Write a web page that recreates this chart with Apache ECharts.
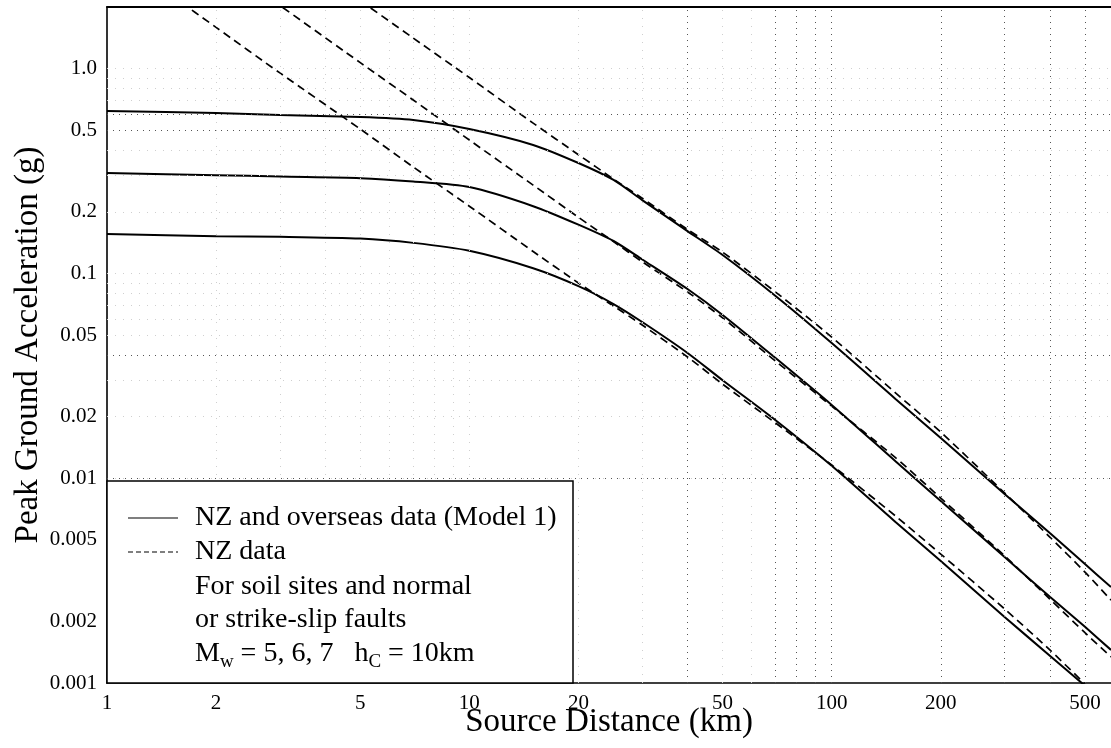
<!DOCTYPE html>
<html>
<head>
<meta charset="utf-8">
<script src="https://cdn.jsdelivr.net/npm/echarts@6/dist/echarts.min.js"></script>
<style>
  html, body { margin: 0; padding: 0; background: #ffffff; }
  #chart { width: 1111px; height: 748px; }
</style>
</head>
<body>
<div id="chart"></div>
<script>
// Attenuation curves: peak ground acceleration (g) against source distance (km)
// Model 1 (NZ and overseas data), Mw = 5, 6, 7
const distM7 = [1, 2, 3, 5, 7, 10, 15, 20, 25, 30, 40, 50, 70, 100, 150, 200, 300, 400, 500, 590];
const pgaM7  = [0.621, 0.607, 0.593, 0.580, 0.561, 0.507, 0.424, 0.346, 0.286, 0.228, 0.161, 0.123, 0.0776, 0.0457, 0.0244, 0.0157, 0.00837, 0.0054, 0.00381, 0.00294];
const distM6 = [1, 2, 3, 5, 7, 10, 15, 20, 25, 30, 40, 50, 70, 100, 150, 200, 300, 400, 500, 590];
const pgaM6  = [0.309, 0.302, 0.297, 0.292, 0.281, 0.264, 0.213, 0.173, 0.144, 0.117, 0.0839, 0.0627, 0.0386, 0.0228, 0.0121, 0.00774, 0.00412, 0.00264, 0.00188, 0.00145];
const distM5 = [1, 2, 3, 5, 7, 10, 15, 20, 25, 30, 40, 50, 70, 100, 150, 200, 300, 400, 500];
const pgaM5  = [0.156, 0.152, 0.151, 0.148, 0.141, 0.129, 0.106, 0.0867, 0.0709, 0.0579, 0.0409, 0.0301, 0.0192, 0.0115, 0.00611, 0.00394, 0.0021, 0.00136, 0.00097];

// NZ data only, Mw = 5, 6, 7
const distNZ7 = [5, 7, 10, 15, 20, 25, 30, 40, 50, 70, 100, 150, 200, 300, 400, 500, 590];
const pgaNZ7  = [2.15, 1.41, 0.905, 0.542, 0.380, 0.289, 0.233, 0.164, 0.127, 0.0811, 0.0489, 0.0261, 0.0168, 0.00847, 0.00516, 0.00348, 0.00254];
const distNZ6 = [2.5, 5, 7, 10, 15, 20, 25, 30, 40, 50, 70, 100, 150, 200, 300, 400, 500, 590];
const pgaNZ6  = [2.56, 1.07, 0.703, 0.448, 0.270, 0.188, 0.143, 0.114, 0.0812, 0.0607, 0.0373, 0.0225, 0.0126, 0.0080, 0.00418, 0.00257, 0.00176, 0.00134];
const distNZ5 = [1.5, 2, 3, 5, 7, 10, 15, 20, 25, 30, 40, 50, 70, 100, 150, 200, 300, 400, 500];
const pgaNZ5  = [2.29, 1.59, 0.953, 0.507, 0.331, 0.213, 0.128, 0.0898, 0.0693, 0.056, 0.0391, 0.0288, 0.0186, 0.0116, 0.00654, 0.00426, 0.0023, 0.00145, 0.00099];

// Tick labels
const xTickValues = [1, 2, 5, 10, 20, 50, 100, 200, 500];
const xTickLabels = ['1', '2', '5', '10', '20', '50', '100', '200', '500'];
const yTickValues = [0.001, 0.002, 0.005, 0.01, 0.02, 0.05, 0.1, 0.2, 0.5, 1];
const yTickLabels = ['0.001', '0.002', '0.005', '0.01', '0.02', '0.05', '0.1', '0.2', '0.5', '1.0'];

// Log-paper grid lines (the darker set and the faint set)
const gridXDark  = [40, 70, 80, 90, 100, 200, 300, 400, 500];
const gridXFaint = [2, 3, 4, 5, 6, 7, 8, 9, 10, 20, 30, 50, 60];
const gridYDark  = [0.6, 0.5, 0.04, 0.01, 0.007, 0.005, 0.003, 0.002];
const gridYFaint = [1, 0.9, 0.8, 0.7, 0.4, 0.3, 0.2, 0.1, 0.09, 0.08, 0.07, 0.06, 0.05, 0.03, 0.02, 0.009, 0.008, 0.006, 0.004];

const SERIF = '"Liberation Serif", "Times New Roman", Times, serif';

function pairs(xs, ys) { return xs.map((x, i) => [x, ys[i]]); }
function labelFor(values, labels) {
  return function (v) {
    for (let i = 0; i < values.length; i++) {
      if (Math.abs(Math.log10(v / values[i])) < 1e-6) return labels[i];
    }
    return '';
  };
}

const chart = echarts.init(document.getElementById('chart'), null, { renderer: 'canvas' });

const GL = 107, GT = 7, GR = 0, GB = 65;

function curve(name, data, dashed) {
  return {
    name: name,
    type: 'line',
    data: data,
    showSymbol: false,
    smooth: 0.25,
    clip: true,
    z: 3,
    lineStyle: dashed
      ? { color: '#000', width: 1.7, type: [8, 5] }
      : { color: '#000', width: 2 }
  };
}

function gridLines(xs, ys, color, dash) {
  return {
    type: 'line',
    data: [],
    silent: true,
    z: 1,
    markLine: {
      silent: true,
      symbol: 'none',
      animation: false,
      label: { show: false },
      lineStyle: { color: color, width: 1, type: dash },
      emphasis: { disabled: true },
      data: xs.map(v => ({ xAxis: v })).concat(ys.map(v => ({ yAxis: v })))
    }
  };
}

const option = {
  animation: false,
  backgroundColor: '#ffffff',
  grid: { left: GL, top: GT, right: GR, bottom: GB, containLabel: false, outerBoundsMode: 'none' },
  xAxis: [
    {
      type: 'log', logBase: 10, min: 1, max: 590,
      position: 'bottom',
      name: 'Source Distance (km)',
      nameLocation: 'middle', nameGap: 23, nameMoveOverlap: false,
      nameTextStyle: { fontFamily: SERIF, fontSize: 33, color: '#000' },
      axisLine: { show: true, onZero: false, lineStyle: { color: '#000', width: 1.6 } },
      axisTick: { show: false },
      splitLine: { show: false },
      minorSplitLine: { show: false },
      axisLabel: {
        show: true, margin: 10, customValues: xTickValues,
        fontFamily: SERIF, fontSize: 21, color: '#000',
        formatter: labelFor(xTickValues, xTickLabels),
        showMinLabel: true, showMaxLabel: true, hideOverlap: false
      }
    },
    {
      type: 'log', logBase: 10, min: 1, max: 590,
      position: 'top',
      axisLine: { show: true, onZero: false, lineStyle: { color: '#000', width: 2 } },
      axisTick: { show: false },
      axisLabel: { show: false },
      splitLine: { show: false }
    }
  ],
  yAxis: {
    type: 'log', logBase: 10, min: 0.001, max: 2,
    name: 'Peak Ground Acceleration (g)',
    nameLocation: 'middle', nameRotate: 90, nameGap: 62, nameMoveOverlap: false,
    nameTextStyle: { fontFamily: SERIF, fontSize: 33, color: '#000' },
    axisLine: { show: true, onZero: false, lineStyle: { color: '#000', width: 1.6 } },
    axisTick: { show: false },
    splitLine: { show: false },
    minorSplitLine: { show: false },
    axisLabel: {
      show: true, margin: 10, customValues: yTickValues,
      fontFamily: SERIF, fontSize: 21, color: '#000',
      formatter: labelFor(yTickValues, yTickLabels),
      showMinLabel: true, showMaxLabel: true, hideOverlap: false
    }
  },
  series: [
    gridLines(gridXFaint, gridYFaint, '#cfcfcf', [1, 7]),
    gridLines(gridXDark, gridYDark, '#555555', [1, 5]),
    curve('M7 Model 1', pairs(distM7, pgaM7), false),
    curve('M6 Model 1', pairs(distM6, pgaM6), false),
    curve('M5 Model 1', pairs(distM5, pgaM5), false),
    curve('M7 NZ', pairs(distNZ7, pgaNZ7), true),
    curve('M6 NZ', pairs(distNZ6, pgaNZ6), true),
    curve('M5 NZ', pairs(distNZ5, pgaNZ5), true)
  ]
};

chart.setOption(option);

// Key box in the lower-left corner of the plot
(function drawKey() {
  const font = '28px ' + SERIF;
  const subFont = '19px ' + SERIF;
  const ctx = document.createElement('canvas').getContext('2d');
  function w(text, f) { ctx.font = f; return ctx.measureText(text).width; }

  const boxLeft = GL, boxTop = 481, boxRight = 573, boxBottom = 748 - GB;
  const textX = 195, sampleX1 = 128, sampleX2 = 178;
  const rows = [518, 552, 587, 620, 654];

  const els = [
    { type: 'rect', z: 10, shape: { x: boxLeft, y: boxTop, width: boxRight - boxLeft, height: boxBottom - boxTop },
      style: { fill: '#fff', stroke: '#000', lineWidth: 1.5 } },
    { type: 'line', z: 11, shape: { x1: sampleX1, y1: rows[0], x2: sampleX2, y2: rows[0] },
      style: { stroke: '#000', lineWidth: 1.2 } },
    { type: 'line', z: 11, shape: { x1: sampleX1, y1: rows[1], x2: sampleX2, y2: rows[1] },
      style: { stroke: '#000', lineWidth: 1.2, lineDash: [5, 3] } }
  ];
  const plain = ['NZ and overseas data (Model 1)', 'NZ data', 'For soil sites and normal', 'or strike-slip faults'];
  plain.forEach((t, i) => {
    els.push({ type: 'text', z: 11, x: textX, y: rows[i],
      style: { text: t, font: font, fill: '#000', align: 'left', verticalAlign: 'middle' } });
  });

  // "Mw = 5, 6, 7   hC = 10km" with subscripts
  const parts = [
    { t: 'M', sub: false }, { t: 'w', sub: true },
    { t: ' = 5, 6, 7   h', sub: false }, { t: 'C', sub: true },
    { t: ' = 10km', sub: false }
  ];
  let cx = textX;
  parts.forEach(p => {
    const f = p.sub ? subFont : font;
    els.push({ type: 'text', z: 11, x: cx, y: rows[4] + (p.sub ? 8 : 0),
      style: { text: p.t, font: f, fill: '#000', align: 'left', verticalAlign: 'middle' } });
    cx += w(p.t, f);
  });

  chart.setOption({ graphic: { elements: els } });
})();
</script>
</body>
</html>
